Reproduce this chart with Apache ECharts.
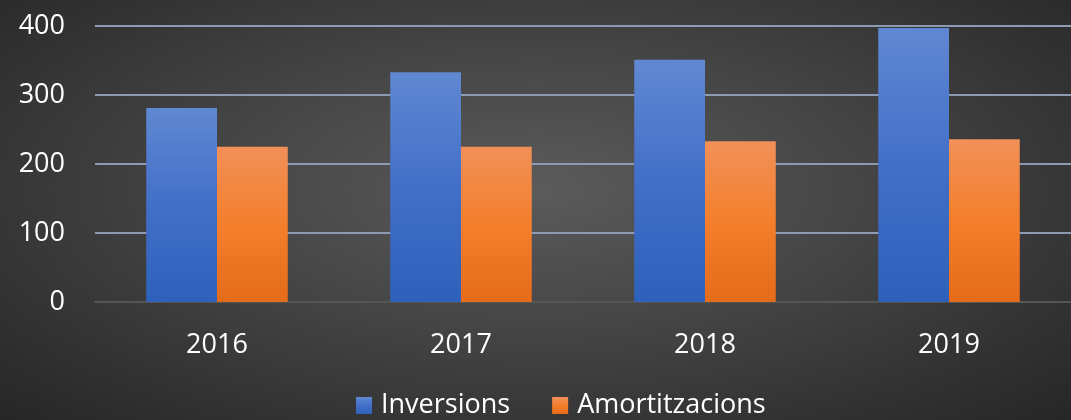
<!DOCTYPE html>
<html>
<head>
<meta charset="utf-8">
<script src="https://cdn.jsdelivr.net/npm/echarts@6/dist/echarts.min.js"></script>
<style>
  html, body { margin: 0; padding: 0; }
  body { background: radial-gradient(ellipse at 50% 45%, #5b5b5b 0%, #444 45%, #262626 100%); }
  #chart { width: 1071px; height: 420px; }
</style>
</head>
<body>
<div id="chart"></div>
<script>
// data
var years = ["2016", "2017", "2018", "2019"];
var inversions = [281, 333, 351, 397];
var amortitzacions = [225, 225, 233, 236];
var yTicks = [0, 100, 200, 300, 400];

var chart = echarts.init(document.getElementById("chart"));

function vGrad(top, mid, bottom) {
  return new echarts.graphic.LinearGradient(0, 0, 0, 1, [
    { offset: 0, color: top },
    { offset: 0.5, color: mid },
    { offset: 1, color: bottom }
  ]);
}

var font = "'Open Sans', sans-serif";

chart.setOption({
  backgroundColor: "transparent",
  textStyle: { fontFamily: font },
  grid: {
    left: 95,
    right: -3,
    top: 26,
    bottom: 118
  },
  legend: {
    bottom: -4,
    left: 351,
    itemWidth: 16,
    itemHeight: 17,
    itemGap: 42,
    icon: "rect",
    textStyle: { color: "#fff", fontSize: 27, fontFamily: font, padding: [0, 0, 0, 4] },
    data: ["Inversions", "Amortitzacions"]
  },
  xAxis: {
    type: "category",
    data: years,
    axisTick: { show: false },
    axisLine: { lineStyle: { color: "#555", width: 2 } },
    axisLabel: { color: "#fff", fontSize: 27, margin: 30 }
  },
  yAxis: {
    type: "value",
    min: yTicks[0],
    max: yTicks[yTicks.length - 1],
    interval: 100,
    axisLine: { show: false },
    axisTick: { show: false },
    axisLabel: { color: "#fff", fontSize: 27, margin: 30 },
    splitLine: { lineStyle: { color: "#8d9bb2", width: 2 } }
  },
  series: [
    {
      name: "Inversions",
      type: "bar",
      data: inversions,
      barGap: "0%",
      barCategoryGap: "42%",
      itemStyle: {
        color: vGrad("#6088d2", "#426fc8", "#2e61bb"),
        shadowBlur: 8,
        shadowColor: "rgba(0,0,0,0.45)",
        shadowOffsetX: 2,
        shadowOffsetY: 2
      }
    },
    {
      name: "Amortitzacions",
      type: "bar",
      data: amortitzacions,
      itemStyle: {
        color: vGrad("#f19059", "#f47f2c", "#e46b1a"),
        shadowBlur: 8,
        shadowColor: "rgba(0,0,0,0.45)",
        shadowOffsetX: 2,
        shadowOffsetY: 2
      }
    }
  ]
});
</script>
</body>
</html>
